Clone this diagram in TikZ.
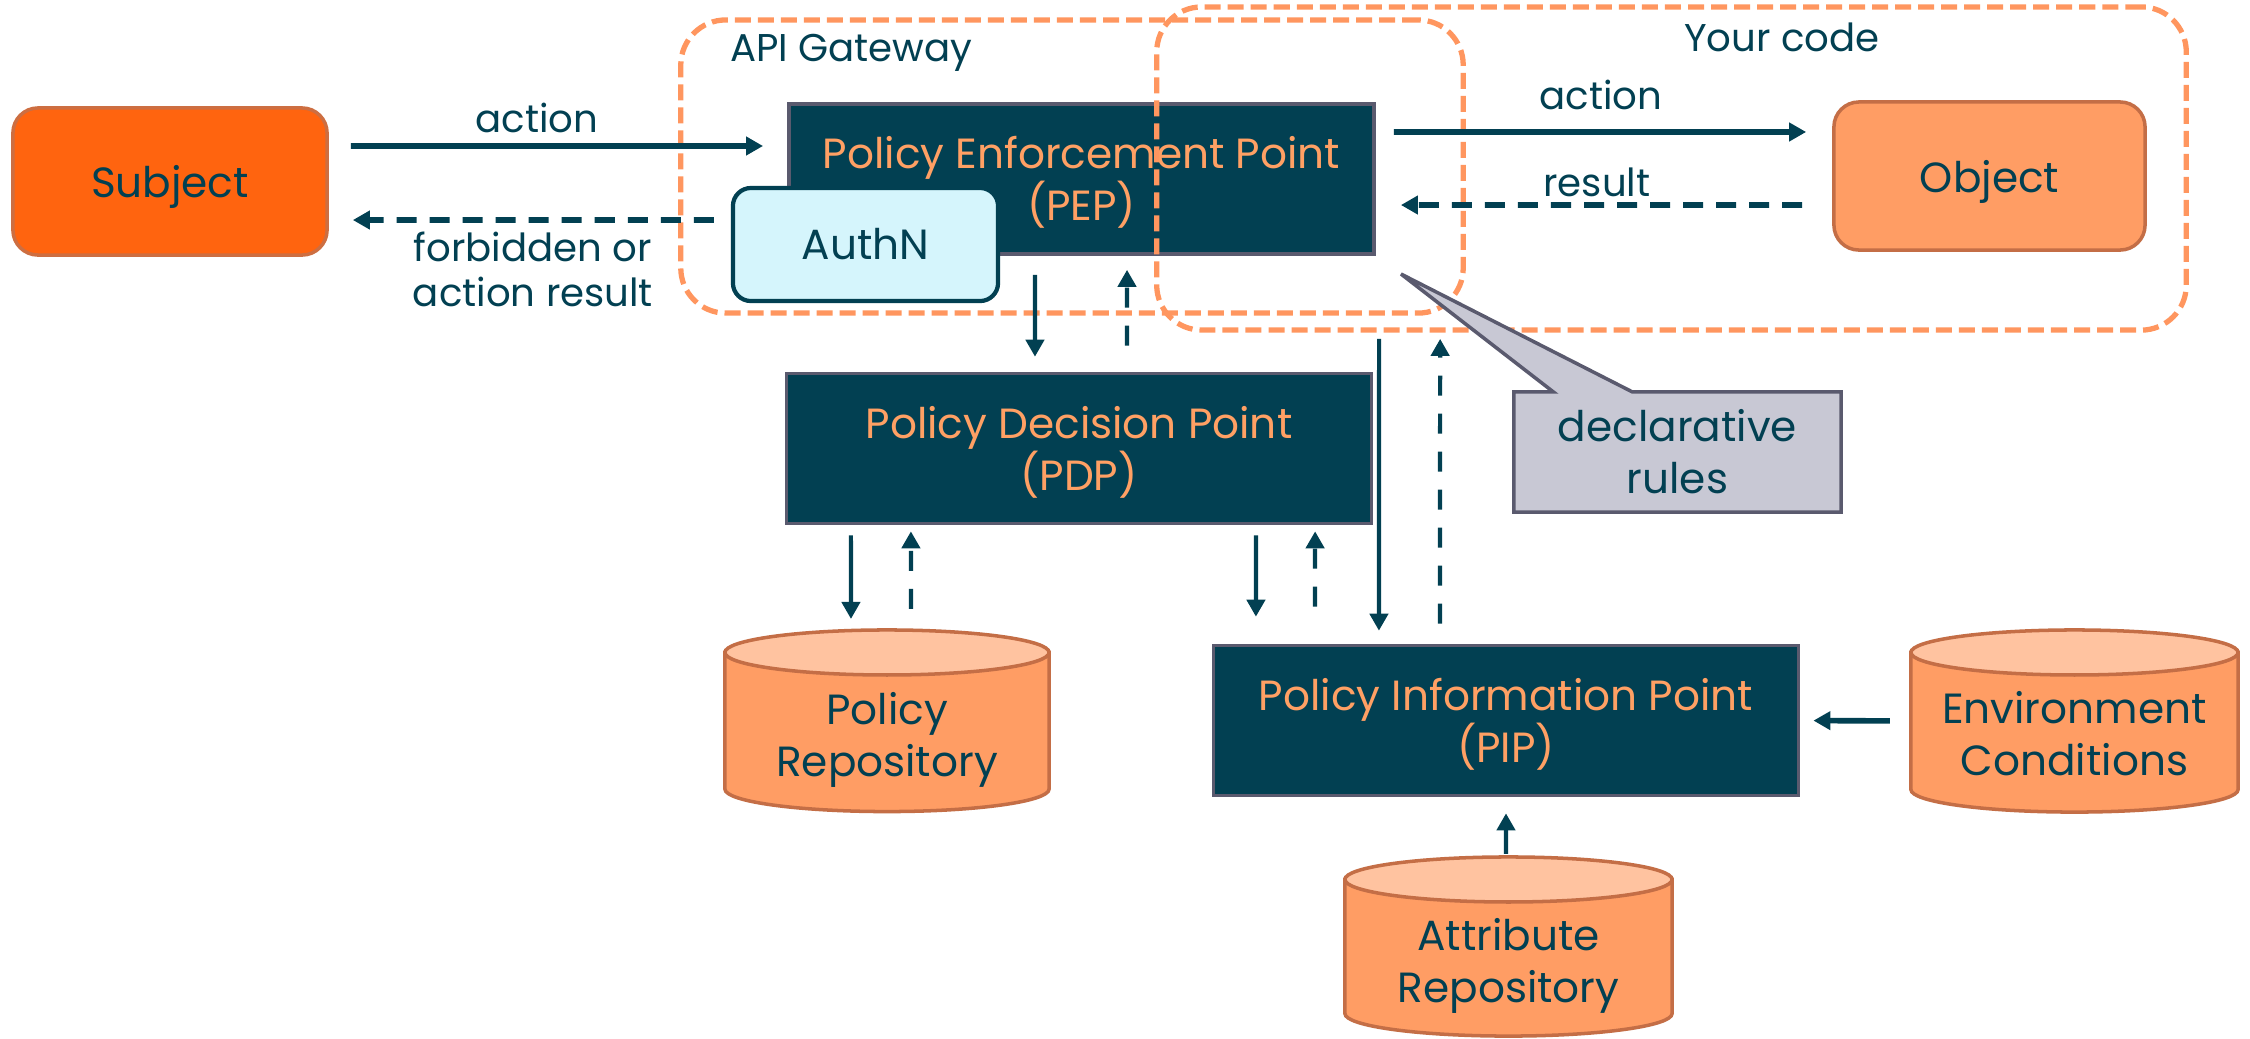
\documentclass[tikz,border=0pt]{standalone}
\usepackage{fontspec}
\setmainfont{Poppins}
\usetikzlibrary{positioning, arrows.meta, shapes.callouts}

\definecolor{deepteal}{RGB}{2,64,82}
\definecolor{slateline}{RGB}{90,90,110}
\definecolor{pointtext}{RGB}{255,160,100}
\definecolor{subjectorange}{RGB}{255,100,15}
\definecolor{subjectedge}{RGB}{205,110,65}
\definecolor{softorange}{RGB}{255,157,100}
\definecolor{softedge}{RGB}{196,110,70}
\definecolor{captop}{RGB}{255,195,160}
\definecolor{authfill}{RGB}{213,245,252}
\definecolor{notefill}{RGB}{200,200,212}
\definecolor{zoneorange}{RGB}{255,150,95}

\newcommand{\diagboxfont}{\fontsize{12}{14.8}\selectfont}
\newcommand{\diaglabelfont}{\fontsize{11}{12.8}\selectfont}

\begin{document}
\begin{tikzpicture}[x=0.01cm, y=-0.01cm,
    point/.style={draw=slateline, line width=1pt, fill=deepteal, text=pointtext, text depth=0.2pt,
      align=center, font=\diagboxfont, minimum width=5.85cm, minimum height=1.5cm, inner sep=0pt},
    actor/.style={draw=subjectedge, line width=1pt, fill=subjectorange, text=deepteal, text depth=0pt,
      rounded corners=0.25cm, font=\diagboxfont, minimum width=3.14cm, minimum height=1.47cm},
    resource/.style={actor, fill=softorange, draw=softedge, minimum width=3.11cm, minimum height=1.48cm},
    authbox/.style={draw=deepteal, line width=1.2pt, fill=authfill, text=deepteal, rounded corners=0.18cm,
      font=\diagboxfont, minimum width=2.65cm, minimum height=1.13cm},
    zone/.style={draw=zoneorange, line width=1.5pt, dash pattern=on 0.16cm off 0.07cm,
      rounded corners=0.45cm, inner sep=0pt},
    dbspot/.style={inner sep=0pt, outer sep=0pt},
    dbbody/.style={draw=softedge, line width=1pt, fill=softorange},
    dbtop/.style={draw=softedge, line width=1pt, fill=captop},
    dbtext/.style={text=deepteal, align=center, font=\diagboxfont},
    note/.style={rectangle callout, draw=slateline, line width=1pt, fill=notefill, text=deepteal,
      align=center, font=\diagboxfont, minimum width=3.27cm, minimum height=1.2cm,
      callout pointer width=0.79cm},
    tag/.style={text=deepteal, align=center, font=\diaglabelfont, inner sep=1pt},
    flow/.style={draw=deepteal, line width=1.6pt, -{Triangle[length=0.17cm,width=0.18cm]}},
    reply/.style={flow, dash pattern=on 0.2cm off 0.13cm},
    vflow/.style={flow, line width=1.2pt},
    vreply/.style={vflow, dash pattern=on 0.2cm off 0.18cm}]
    \useasboundingbox (0,0) rectangle (2250,1038);

    % main blocks
    \node[actor] (subject) at (170,181.5) {Subject};
    \node[point] (pep) at (1081.5,179) {Policy Enforcement Point\\(PEP)};
    \node[point] (pdp) at (1079,448.5) {Policy Decision Point\\(PDP)};
    \node[point] (pip) at (1506,720.5) {Policy Information Point\\(PIP)};
    \node[resource] (object) at (1989.5,176) {Object};
    \node[authbox] (authn) at (865.5,244.5) {AuthN};

    % stores
    \node[dbspot, minimum width=3.24cm, minimum height=1.815cm] (prepo) at (887,720.75) {};
    \filldraw[dbbody] ([yshift=-0.225cm]prepo.north west) -- ([yshift=0.225cm]prepo.south west)
      arc[start angle=180, end angle=360, x radius=1.62cm, y radius=0.225cm]
      -- ([yshift=-0.225cm]prepo.north east) -- cycle;
    \filldraw[dbtop] ([yshift=-0.225cm]prepo.north) ellipse[x radius=1.62cm, y radius=0.225cm];
    \node[dbtext] (prepotext) at ([yshift=-0.19cm]prepo.center) {Policy\\Repository};

    \node[dbspot, minimum width=3.27cm, minimum height=1.82cm] (env) at (2074.5,721) {};
    \filldraw[dbbody] ([yshift=-0.225cm]env.north west) -- ([yshift=0.225cm]env.south west)
      arc[start angle=180, end angle=360, x radius=1.635cm, y radius=0.225cm]
      -- ([yshift=-0.225cm]env.north east) -- cycle;
    \filldraw[dbtop] ([yshift=-0.225cm]env.north) ellipse[x radius=1.635cm, y radius=0.225cm];
    \node[dbtext] (envtext) at ([yshift=-0.13cm]env.center) {Environment\\Conditions};

    \node[dbspot, minimum width=3.27cm, minimum height=1.79cm] (attr) at (1508.5,946.5) {};
    \filldraw[dbbody] ([yshift=-0.225cm]attr.north west) -- ([yshift=0.225cm]attr.south west)
      arc[start angle=180, end angle=360, x radius=1.635cm, y radius=0.225cm]
      -- ([yshift=-0.225cm]attr.north east) -- cycle;
    \filldraw[dbtop] ([yshift=-0.225cm]attr.north) ellipse[x radius=1.635cm, y radius=0.225cm];
    \node[dbtext] (attrtext) at ([yshift=-0.19cm]attr.center) {Attribute\\Repository};

    % dashed zones
    \node[zone, minimum width=7.82cm, minimum height=2.93cm] (gateway) at (1072,166.5) {};
    \node[zone, minimum width=10.29cm, minimum height=3.23cm] (yourcode) at (1671.5,168.5) {};
    \node[tag, anchor=west] (gatewaylabel) at (726,53) {API Gateway};
    \node[tag] (yourcodelabel) at (1782,37) {Your code};

    \node[note, callout absolute pointer={(1401,274)}] (rules) at (1677.5,452) {declarative\\rules};

    % requests and answers
    \draw[flow, shorten <=0.22cm, shorten >=0.24cm] ([yshift=0.355cm]subject.east) -- ([yshift=0.33cm]pep.west);
    \draw[reply, shorten <=0.17cm, shorten >=0.24cm] ([yshift=0.245cm]authn.west) -- ([yshift=-0.385cm]subject.east);
    \draw[flow, shorten <=0.18cm, shorten >=0.26cm] ([yshift=0.47cm]pep.east) -- ([yshift=0.44cm]object.west);
    \draw[reply, shorten <=0.30cm, shorten >=0.25cm] ([yshift=-0.29cm]object.west) -- ([yshift=-0.26cm]pep.east);

    \draw[vflow, shorten <=0.19cm, shorten >=0.15cm] ([xshift=-0.465cm]pep.south) -- ([xshift=-0.44cm]pdp.north);
    \draw[vreply, shorten <=0.26cm, shorten >=0.14cm] ([xshift=0.48cm]pdp.north) -- ([xshift=0.455cm]pep.south);
    \draw[vflow, shorten <=0.83cm, shorten >=0.13cm] ([xshift=2.975cm]pep.south) -- ([xshift=-1.27cm]pip.north);
    \draw[vreply, shorten <=0.20cm, shorten >=0.83cm] ([xshift=-0.66cm]pip.north) -- ([xshift=3.585cm]pep.south);

    \draw[vflow, shorten <=0.10cm, shorten >=0.11cm] ([xshift=-2.28cm]pdp.south) -- ([xshift=-0.36cm]prepo.north);
    \draw[vreply, shorten <=0.21cm, shorten >=0.06cm] ([xshift=0.24cm]prepo.north) -- ([xshift=-1.68cm]pdp.south);
    \draw[vflow, shorten <=0.10cm, shorten >=0.27cm] ([xshift=1.77cm]pdp.south) -- ([xshift=-2.5cm]pip.north);
    \draw[vreply, shorten <=0.37cm, shorten >=0.06cm] ([xshift=-1.91cm]pip.north) -- ([xshift=2.36cm]pdp.south);

    \draw[flow, shorten <=0.21cm, shorten >=0.13cm] (env.west) -- (pip.east);
    \draw[vflow, shorten <=0.03cm, shorten >=0.16cm] ([xshift=-0.025cm]attr.north) -- (pip.south);

    % arrow labels
    \node[tag] (actionin) at (537,118) {action};
    \node[tag] (denied) at (533,269.5) {forbidden or\\action result};
    \node[tag] (actionout) at (1601,95) {action};
    \node[tag] (resultlabel) at (1597,182) {result};
\end{tikzpicture}
\end{document}
